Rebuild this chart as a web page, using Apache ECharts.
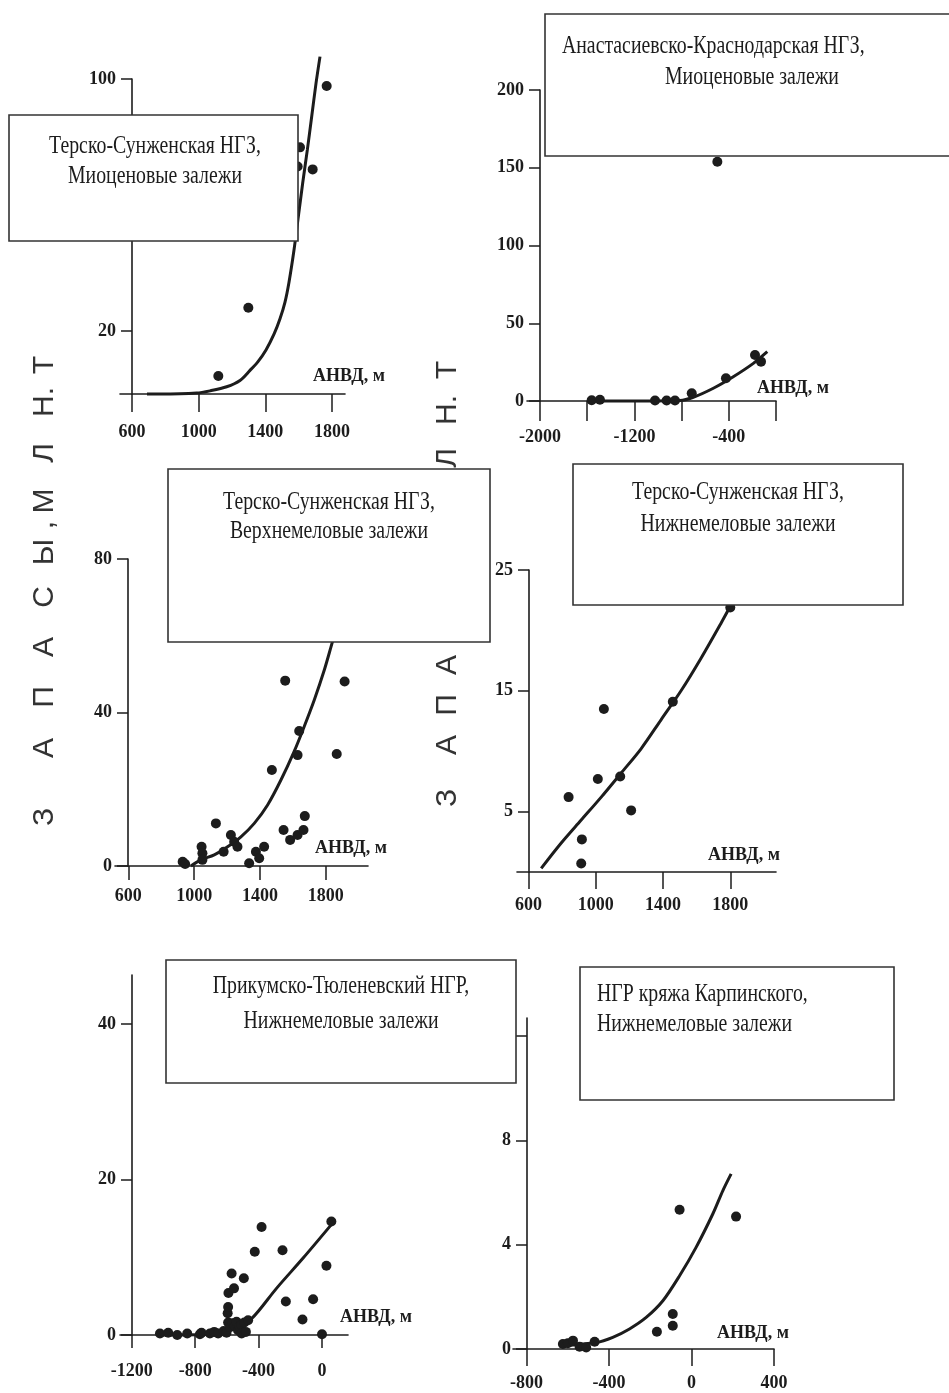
<!DOCTYPE html>
<html>
<head>
<meta charset="utf-8">
<script src="https://cdn.jsdelivr.net/npm/echarts@6/dist/echarts.min.js"></script>
<style>
  html, body { margin: 0; padding: 0; background: #fff; }
  #chart { width: 949px; height: 1393px; }
</style>
</head>
<body>
<div id="chart"></div>
<script>
// ---- data (x = АНВД, м ; y = запасы, млн. т) ----
const tsMioPoints = [[1118, 5.7], [1298, 27.4], [1594, 72.2], [1608, 78.3], [1684, 71.3], [1768, 97.8]];
const tsMioCurve = [[690, 0], [768, 0], [988, 0.3], [1068, 1.0], [1168, 2.3], [1248, 4.3], [1308, 7.5], [1356, 10.3],
  [1404, 14.0], [1452, 19.0], [1488, 23.9], [1518, 29.2], [1542, 35.5], [1572, 45.7], [1598, 56.3], [1624, 66.9],
  [1652, 77.5], [1678, 88.0], [1704, 98.6], [1728, 107.1]];

const akMioPoints = [[-1562, 0.5], [-1492, 0.8], [-1025, 0.3], [-927, 0.3], [-856, 0.3], [-714, 5.0], [-424, 14.6],
  [-178, 29.6], [-127, 25.3], [-497, 153.9]];
const akMioCurve = [[-1576, 0], [-1237, 0], [-814, 0.3], [-701, 2.4], [-531, 8.2], [-362, 15.6], [-192, 24.2], [-74, 31.7]];

const tsUpperPoints = [[930, 1.1], [945, 0.5], [1045, 5.0], [1050, 3.3], [1050, 1.6], [1132, 11.1], [1179, 3.7],
  [1223, 8.1], [1243, 6.3], [1263, 5.0], [1334, 0.7], [1375, 3.7], [1395, 2.0], [1425, 5.0], [1472, 25.0],
  [1543, 9.4], [1553, 48.3], [1583, 6.8], [1628, 8.1], [1628, 28.9], [1638, 35.2], [1664, 9.4], [1672, 13.0],
  [1866, 29.2], [1914, 48.1]];
const tsUpperCurve = [[980, 0], [1041, 1.6], [1122, 2.9], [1203, 5.0], [1284, 7.6], [1365, 11.1], [1446, 15.9],
  [1527, 22.4], [1607, 29.8], [1668, 36.3], [1729, 43.2], [1790, 51.0], [1840, 58.4], [1891, 65.8]];

const tsLowerPoints = [[838, 6.2], [917, 2.7], [913, 0.7], [1012, 7.7], [1048, 13.5], [1145, 7.9], [1210, 5.1],
  [1458, 14.1], [1800, 21.9]];
const tsLowerCurve = [[675, 0.3], [794, 2.4], [913, 4.3], [1032, 6.2], [1151, 8.2], [1269, 10.2], [1388, 12.6],
  [1507, 15.0], [1626, 17.7], [1745, 20.6], [1804, 22.1]];

const ptLowerPoints = [[-1022, 0.2], [-970, 0.3], [-913, 0], [-850, 0.2], [-770, 0.1], [-760, 0.3], [-707, 0.2],
  [-680, 0.4], [-655, 0.2], [-620, 0.5], [-602, 0.3], [-592, 1.6], [-595, 2.8], [-592, 3.6], [-590, 5.4],
  [-570, 7.9], [-555, 6.0], [-580, 1.0], [-565, 1.5], [-550, 1.2], [-539, 1.7], [-530, 0.6], [-520, 1.1],
  [-507, 1.3], [-507, 0.2], [-490, 1.6], [-480, 0.4], [-466, 1.9], [-493, 7.3], [-424, 10.7], [-381, 13.9],
  [-249, 10.9], [-228, 4.3], [-123, 2.0], [-56, 4.6], [0, 0.1], [28, 8.9], [59, 14.6]];
const ptLowerCurve = [[-1022, 0], [-644, 0.2], [-539, 1.1], [-444, 2.1], [-287, 6.0], [-119, 9.9], [59, 14.2]];

const karpPoints = [[-624, 0.19], [-600, 0.22], [-575, 0.32], [-543, 0.09], [-511, 0.06], [-470, 0.28],
  [-168, 0.66], [-91, 0.89], [-91, 1.34], [-58, 5.34], [216, 5.08]];
const karpCurve = [[-624, 0.13], [-462, 0.25], [-382, 0.45], [-301, 0.77], [-220, 1.21], [-139, 1.85],
  [-58, 2.81], [22, 3.9], [103, 5.18], [152, 6.08], [192, 6.72]];

// tick values
const xTicksPos = [600, 1000, 1400, 1800];
const xTicksAk = [-2000, -1600, -1200, -800, -400, 0];
const xLabelsAk = [-2000, -1200, -400];
const xTicksPt = [-1200, -800, -400, 0];
const xTicksKarp = [-800, -400, 0, 400];
const yTicks1 = [20, 100];
const yTicks2 = [0, 50, 100, 150, 200];
const yTicks3 = [0, 40, 80];
const yTicks4 = [5, 15, 25];
const yTicks5 = [0, 20, 40];
const yTicks6 = [0, 4, 8, 12];

// vertical title, letter by letter (read upward)
const yTitleLetters = ['З', 'А', 'П', 'А', 'С', 'Ы', ',', 'М', 'Л', 'Н.', 'Т'];
const xTitle = 'АНВД, м';

// ---- layout of the six panels ----
const INK = '#1c1c1c';
const panels = [
  { left: 120, top: 79, width: 225, height: 315, xMin: 528, xMax: 1878, yMax: 100, yShift: 12,
    xTicks: xTicksPos, xLabels: xTicksPos, yTicks: yTicks1, xTickLen: 18, xMargin: 29,
    points: tsMioPoints, curve: tsMioCurve },
  { left: 527, top: 90, width: 249, height: 311, xMin: -2110, xMax: 0, yMax: 200, yShift: 13,
    xTicks: xTicksAk, xLabels: xLabelsAk, yTicks: yTicks2, xTickLen: 20, xMargin: 27,
    points: akMioPoints, curve: akMioCurve },
  { left: 115, top: 559, width: 253, height: 307, xMin: 519, xMax: 2056, yMax: 80, yShift: 13,
    xTicks: xTicksPos, xLabels: xTicksPos, yTicks: yTicks3, xTickLen: 14, xMargin: 21,
    points: tsUpperPoints, curve: tsUpperCurve },
  { left: 517, top: 570, width: 259, height: 302, xMin: 531, xMax: 2072, yMax: 25, yShift: 12,
    xTicks: xTicksPos, xLabels: xTicksPos, yTicks: yTicks4, xTickLen: 17, xMargin: 24,
    points: tsLowerPoints, curve: tsLowerCurve },
  { left: 120, top: 975, width: 228, height: 360, xMin: -1274, xMax: 164, yMax: 46.3, yShift: 12,
    xTicks: xTicksPt, xLabels: xTicksPt, yTicks: yTicks5, xTickLen: 13, xMargin: 27,
    points: ptLowerPoints, curve: ptLowerCurve },
  { left: 513, top: 1018, width: 261, height: 331, xMin: -866, xMax: 400, yMax: 12.7, yShift: 14,
    xTicks: xTicksKarp, xLabels: xTicksKarp, yTicks: yTicks6, xTickLen: 17, xMargin: 25,
    points: karpPoints, curve: karpCurve }
];

const labelFont = { color: INK, fontFamily: 'Liberation Serif', fontWeight: 'bold', fontSize: 18 };
const plain = v => String(v);
const grid = [], xAxis = [], yAxis = [], series = [];

panels.forEach((p, i) => {
  grid.push({ left: p.left, top: p.top, width: p.width, height: p.height, outerBoundsMode: 'none' });
  xAxis.push({
    type: 'value', gridIndex: i, min: p.xMin, max: p.xMax,
    splitLine: { show: false },
    axisLine: { onZero: false, lineStyle: { color: INK, width: 1.6 } },
    axisTick: { customValues: p.xTicks, length: p.xTickLen, lineStyle: { color: INK, width: 1.5 } },
    axisLabel: Object.assign({ customValues: p.xLabels, margin: p.xMargin, formatter: plain }, labelFont)
  });
  yAxis.push({
    type: 'value', gridIndex: i, min: 0, max: p.yMax, offset: -p.yShift,
    splitLine: { show: false },
    axisLine: { onZero: false, lineStyle: { color: INK, width: 1.6 } },
    axisTick: { customValues: p.yTicks, length: 11, lineStyle: { color: INK, width: 1.5 } },
    axisLabel: Object.assign({ customValues: p.yTicks, margin: 16, formatter: plain }, labelFont)
  });
  series.push({
    type: 'line', xAxisIndex: i, yAxisIndex: i, data: p.curve,
    smooth: 0.3, showSymbol: false, clip: false, silent: true,
    lineStyle: { color: INK, width: 3 }, z: 3
  });
  series.push({
    type: 'scatter', xAxisIndex: i, yAxisIndex: i, data: p.points,
    symbolSize: 10, clip: false, itemStyle: { color: INK, opacity: 1 }, z: 4
  });
});

// ---- annotation boxes, axis names ----
const boxFont = '19.8px "Liberation Serif"';
function box(x, y, w, h) {
  return { type: 'rect', z: 20, shape: { x: x, y: y, width: w, height: h },
    style: { fill: '#fff', stroke: '#333', lineWidth: 1.6 } };
}
function boxText(txt, x, y, align) {
  return { type: 'text', z: 21, x: x, y: y, scaleY: 1.25,
    style: { text: txt, font: boxFont, fill: INK, textAlign: align, textVerticalAlign: 'middle' } };
}
function xName(x, y) {
  return { type: 'text', z: 5, x: x, y: y,
    style: { text: xTitle, font: 'bold 18px "Liberation Serif"', fill: INK, textVerticalAlign: 'middle' } };
}
function yName(x, ys) {
  return yTitleLetters.map((ch, k) => ({
    type: 'text', z: 1, x: x, y: ys[k], rotation: Math.PI / 2,
    style: { text: ch, font: '30px "Liberation Sans"', fill: '#333', textAlign: 'center', textVerticalAlign: 'middle' }
  }));
}

const graphic = [].concat(
  yName(45, [817, 748, 697, 647, 597, 552, 525, 501, 453, 402, 365]),
  yName(448, [798, 745, 705, 665, 600, 555, 527, 503, 458, 410, 370]),
  [
    xName(313, 376), xName(757, 388), xName(315, 848), xName(708, 855), xName(340, 1317), xName(717, 1333),
    box(9, 115, 289, 126), boxText('Терско-Сунженская НГЗ,', 155, 147, 'center'), boxText('Миоценовые залежи', 155, 177, 'center'),
    box(545, 14, 420, 142), boxText('Анастасиевско-Краснодарская НГЗ,', 562, 47, 'left'), boxText('Миоценовые залежи', 665, 78, 'left'),
    box(168, 469, 322, 173), boxText('Терско-Сунженская НГЗ,', 329, 503, 'center'), boxText('Верхнемеловые залежи', 329, 532, 'center'),
    box(573, 464, 330, 141), boxText('Терско-Сунженская НГЗ,', 738, 493, 'center'), boxText('Нижнемеловые залежи', 738, 525, 'center'),
    box(166, 960, 350, 123), boxText('Прикумско-Тюленевский НГР,', 341, 987, 'center'), boxText('Нижнемеловые залежи', 341, 1022, 'center'),
    box(580, 967, 314, 133), boxText('НГР кряжа Карпинского,', 597, 995, 'left'), boxText('Нижнемеловые залежи', 597, 1025, 'left')
  ]
);

const chart = echarts.init(document.getElementById('chart'), null, { renderer: 'canvas' });
chart.setOption({
  backgroundColor: '#fff',
  animation: false,
  grid: grid,
  xAxis: xAxis,
  yAxis: yAxis,
  series: series,
  graphic: graphic
});
window.addEventListener('resize', () => chart.resize());
</script>
</body>
</html>
